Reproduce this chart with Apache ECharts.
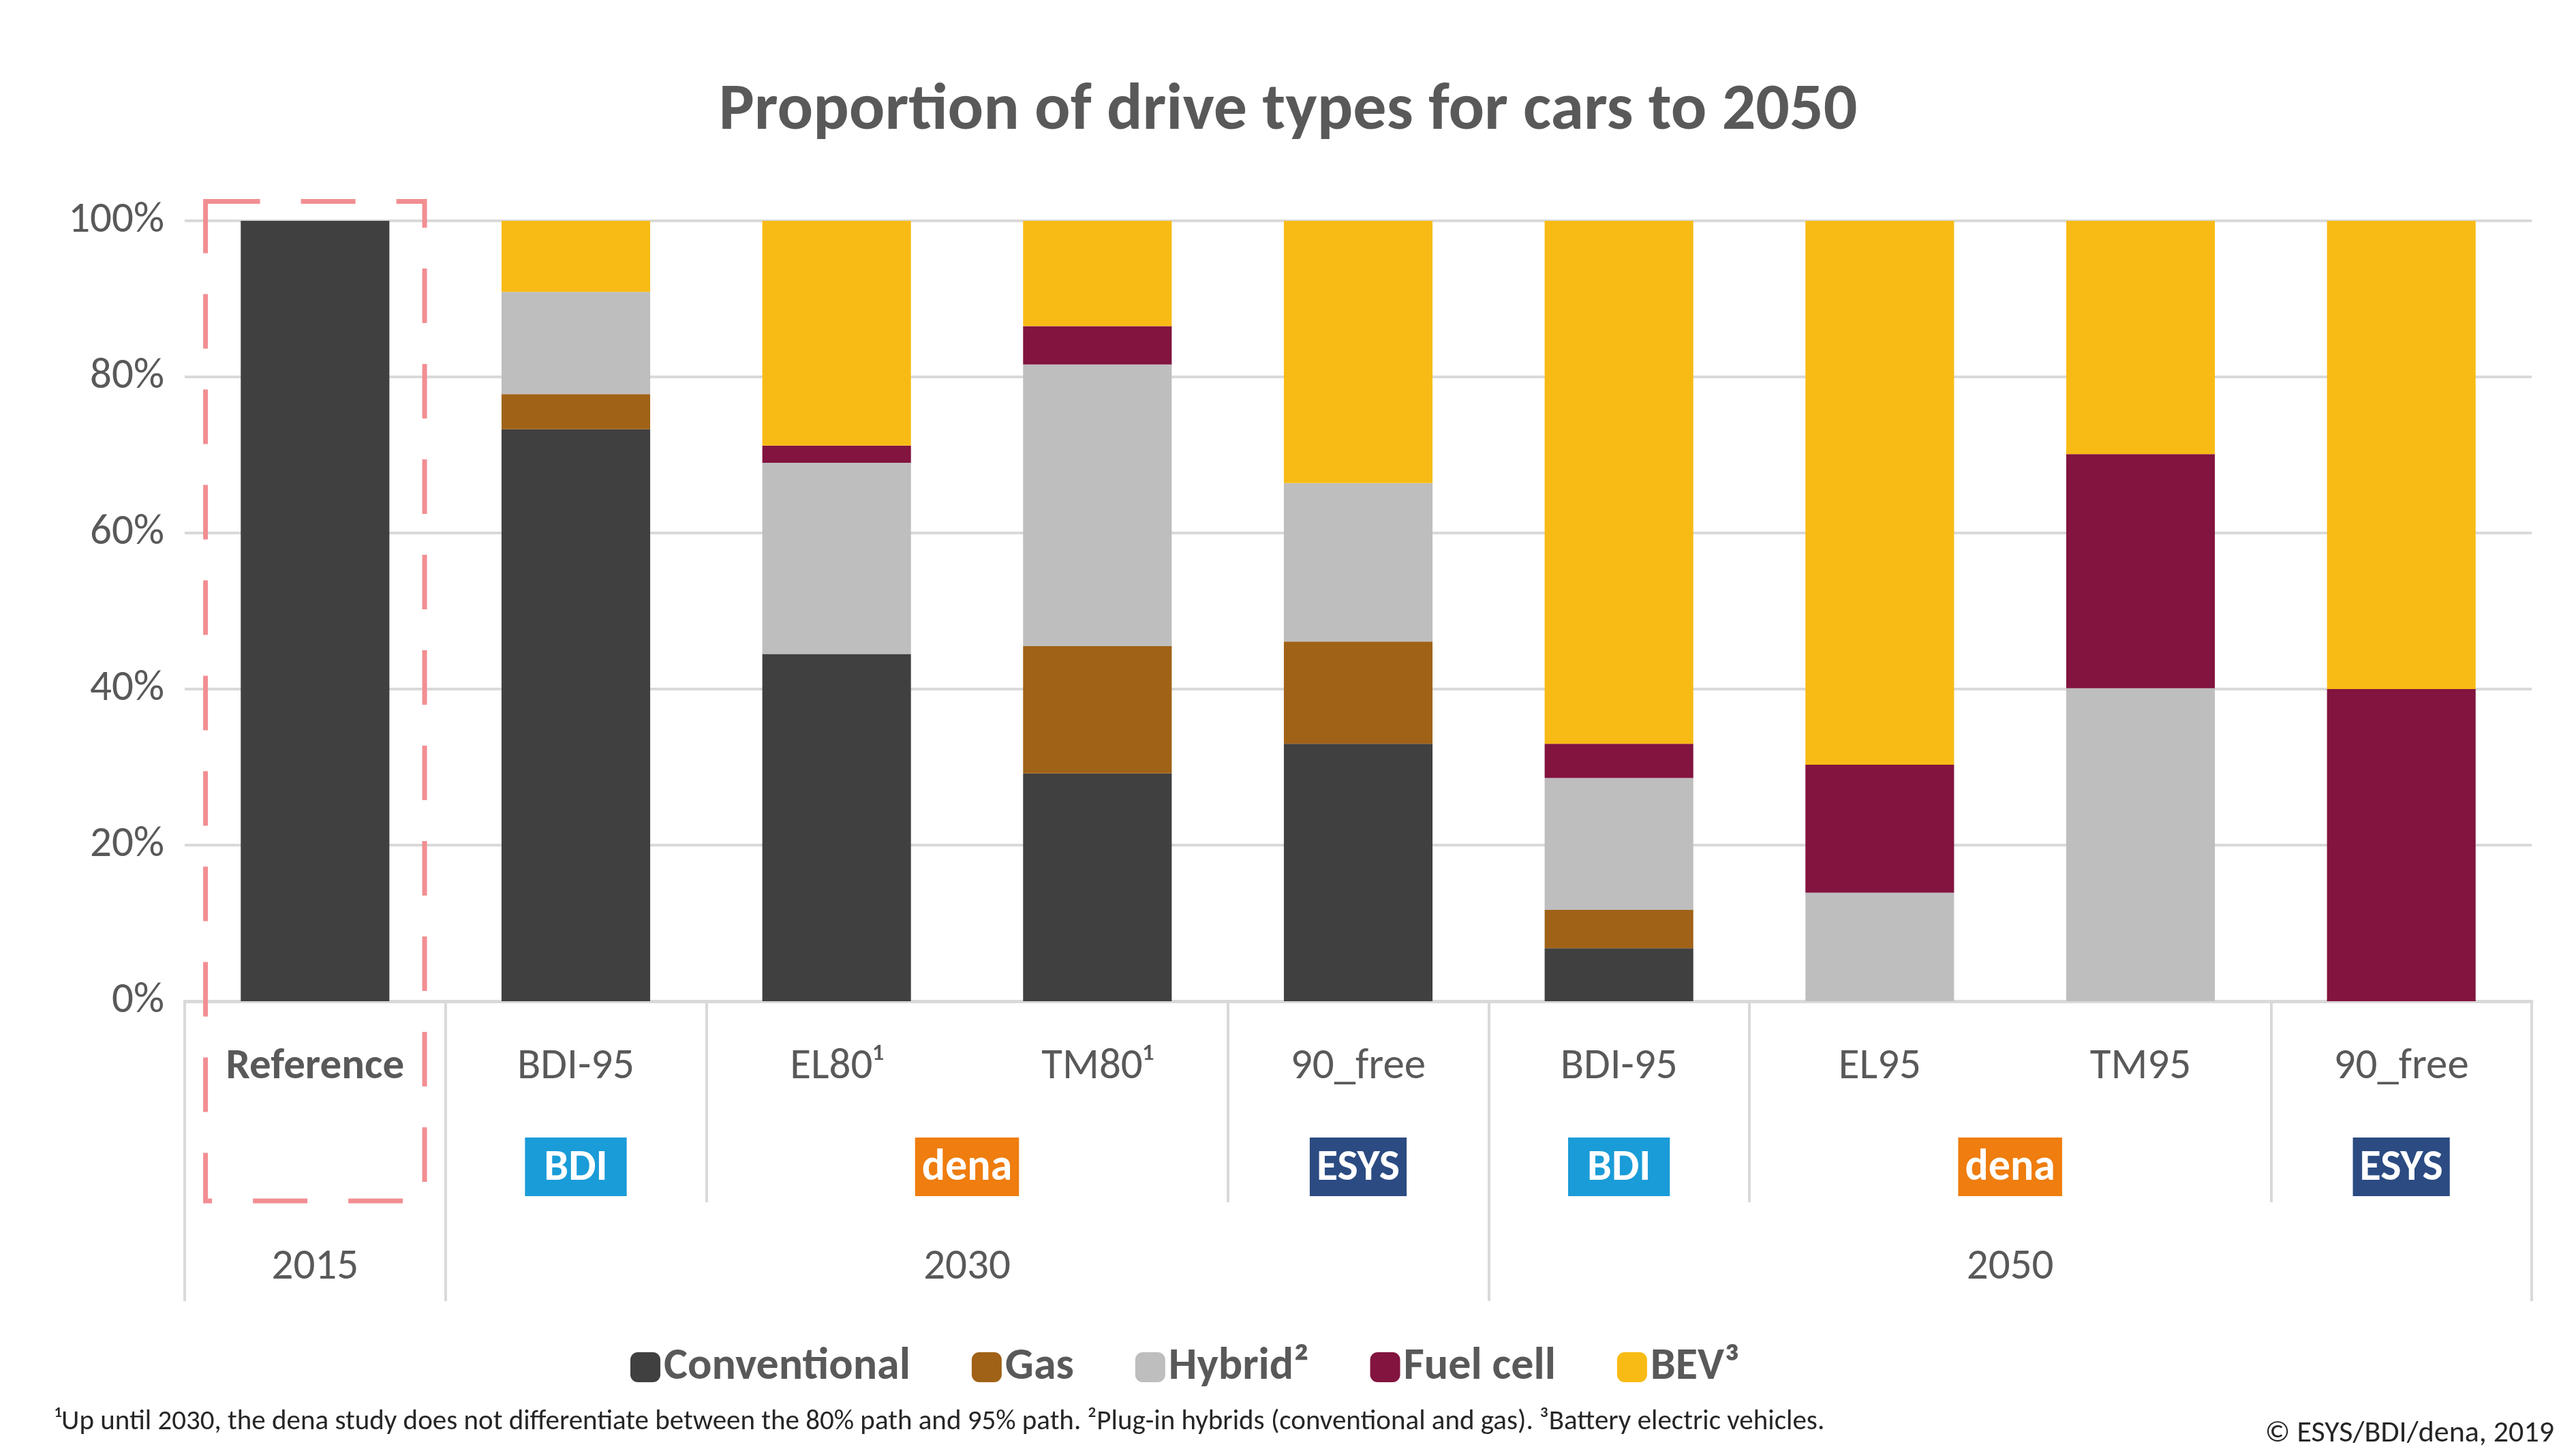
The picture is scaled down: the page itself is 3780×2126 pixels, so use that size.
<!DOCTYPE html>
<html><head><meta charset="utf-8">
<script src="https://cdn.jsdelivr.net/npm/echarts@6/dist/echarts.min.js"></script>
<style>html,body{margin:0;padding:0;background:#fff}#c{width:3780px;height:2126px}</style>
</head><body><div id="c"></div>
<script>
var categories = ["Reference", "BDI-95", "EL80¹", "TM80¹", "90_free", "BDI-95", "EL95", "TM95", "90_free"];
var conventional = [100, 73.3, 44.5, 29.2, 33.0, 6.8, 0, 0, 0];
var gas = [0, 4.5, 0, 16.3, 13.1, 4.9, 0, 0, 0];
var hybrid = [0, 13.1, 24.5, 36.1, 20.3, 16.9, 13.9, 40.1, 0];
var fuelCell = [0, 0, 2.2, 4.9, 0, 4.4, 16.4, 30.0, 40.0];
var bev = [0, 9.1, 28.8, 13.5, 33.6, 67.0, 69.7, 29.9, 60.0];
var studies = { 1: "BDI", 2.5: "dena", 4: "ESYS", 5: "BDI", 6.5: "dena", 8: "ESYS" };
var years = { 0: "2015", 2.5: "2030", 6.5: "2050" };

var chart = echarts.init(document.getElementById("c"));
var txt = "#595959";
var font = "Calibri, 'Open Sans', 'Noto Sans', sans-serif";

function bar(name, data, color) {
  return { name: name, type: "bar", stack: "all", data: data, barWidth: "57%",
    itemStyle: { color: color }, emphasis: { disabled: true } };
}

var option = {
  animation: false,
  textStyle: { fontFamily: font },
  title: { text: "Proportion of drive types for cars to 2050", left: "center", top: 110,
    textStyle: { fontSize: 98, fontWeight: "bold", color: txt, fontFamily: font } },
  grid: { left: 271, right: 65, top: 324, bottom: 657 },
  legend: { bottom: 82, left: 920, itemWidth: 44, itemHeight: 44, itemGap: 90,
    textStyle: { fontSize: 66, fontWeight: "bold", color: txt, fontFamily: font },
    data: ["Conventional", "Gas", "Hybrid²", "Fuel cell", "BEV³"] },
  xAxis: [
    { type: "category", data: categories,
      axisLine: { lineStyle: { color: "#d9d9d9", width: 5 } }, axisTick: { show: false },
      axisLabel: { fontSize: 63, color: txt, margin: 66, interval: 0,
        formatter: function (v, i) { return i === 0 ? "{b|" + v + "}" : v; },
        rich: { b: { fontSize: 63, fontWeight: "bold", color: txt, fontFamily: font } } } },
    { type: "value", min: -0.5, max: 8.5, position: "bottom", splitLine: { show: false },
      axisLine: { show: false },
      axisTick: { show: true, length: 440, customValues: [-0.5, 0.5, 4.5, 8.5],
        lineStyle: { color: "#d9d9d9", width: 4 } },
      axisLabel: { margin: 200, customValues: [1, 2.5, 4, 5, 6.5, 8],
        formatter: function (v) { var s = studies[v]; return "{" + s.toLowerCase() + "|" + s + "}"; },
        rich: {
          bdi: { backgroundColor: "#1a9cd8", color: "#fff", fontWeight: "bold", fontSize: 64, padding: [14, 28, 8, 28], fontFamily: font },
          dena: { backgroundColor: "#ef7d0f", color: "#fff", fontWeight: "bold", fontSize: 64, padding: [14, 10, 8, 10], fontFamily: font },
          esys: { backgroundColor: "#2b4b82", color: "#fff", fontWeight: "bold", fontSize: 64, padding: [14, 10, 8, 10], fontFamily: font }
        } } },
    { type: "value", min: -0.5, max: 8.5, position: "bottom", splitLine: { show: false },
      axisLine: { show: false },
      axisTick: { show: true, length: 295, customValues: [1.5, 3.5, 5.5, 7.5],
        lineStyle: { color: "#d9d9d9", width: 4 } },
      axisLabel: { margin: 360, fontSize: 63, color: txt, customValues: [0, 2.5, 6.5],
        formatter: function (v) { return years[v]; } } }
  ],
  yAxis: { type: "value", min: 0, max: 100, interval: 20,
    axisLabel: { formatter: "{value}%", fontSize: 63, color: txt, margin: 30 },
    axisLine: { show: false }, axisTick: { show: false },
    splitLine: { lineStyle: { color: "#d9d9d9", width: 4 } } },
  series: [
    bar("Conventional", conventional, "#404040"),
    bar("Gas", gas, "#a06217"),
    bar("Hybrid²", hybrid, "#bebebe"),
    bar("Fuel cell", fuelCell, "#82143f"),
    bar("BEV³", bev, "#f8bb15")
  ],
  graphic: [
    { type: "text", left: 80, top: 2066, style: { text: "¹Up until 2030, the dena study does not differentiate between the 80% path and 95% path. ²Plug-in hybrids (conventional and gas). ³Battery electric vehicles.", fontSize: 41, fill: "#262626", fontFamily: font } },
    { type: "text", right: 32, top: 2082, style: { text: "© ESYS/BDI/dena, 2019", fontSize: 44, fill: "#262626", fontFamily: font } }
  ]
};
chart.setOption(option);

// dashed box around the reference column
var tl = chart.convertToPixel({ xAxisIndex: 1, yAxisIndex: 0 }, [-0.42, 102.5]);
var br = chart.convertToPixel({ xAxisIndex: 1, yAxisIndex: 0 }, [0.42, 0]);
chart.setOption({ graphic: option.graphic.concat([{
  type: "rect", shape: { x: tl[0], y: tl[1], width: br[0] - tl[0], height: 1762 - tl[1] }, z: 10,
  style: { fill: "none", stroke: "#f28e92", lineWidth: 7, lineDash: [80, 60] } }]) });
</script></body></html>
